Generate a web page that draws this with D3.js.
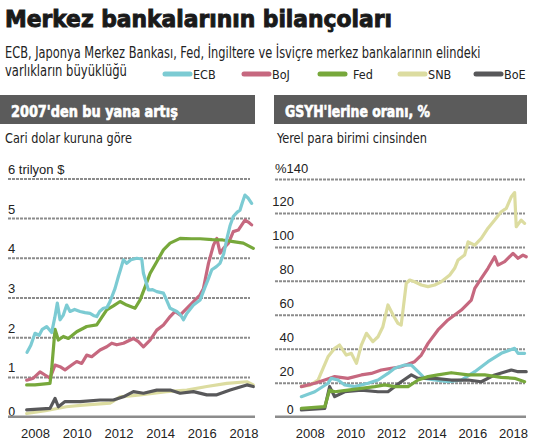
<!DOCTYPE html>
<html>
<head>
<meta charset="utf-8">
<script src="https://cdn.jsdelivr.net/npm/d3@7"></script>
<style>
  body { margin: 0; background: #fff; }
  svg { display: block; font-family: "DejaVu Sans Condensed", "DejaVu Sans", sans-serif; font-stretch: condensed; }
</style>
</head>
<body>
<div id="chart"></div>
<script>
// --- data ---
var seriesNames = ['ECB', 'BoJ', 'Fed', 'SNB', 'BoE'];
var seriesColors = ['#7ccbd3', '#c6687f', '#77a83b', '#dcdca0', '#58585a'];
var yearTicks = [2008, 2010, 2012, 2014, 2016, 2018];
var usdTicks = [1, 2, 3, 4, 5, 6];
var gdpTicks = [20, 40, 60, 80, 100, 120, 140];

// left panel: trillion $ at current exchange rates
var ecbUsd = [[2007.62,1.62],[2007.8,1.8],[2008.0,2.1],[2008.2,2.05],[2008.35,2.2],[2008.56,2.27],[2008.8,2.12],[2008.95,2.5],[2009.07,2.86],[2009.2,2.44],[2009.35,2.55],[2009.52,2.81],[2009.68,2.65],[2009.9,2.7],[2010.16,2.65],[2010.4,2.62],[2010.64,2.6],[2010.8,2.55],[2010.96,2.52],[2011.1,2.65],[2011.28,2.73],[2011.45,2.75],[2011.6,2.9],[2011.84,3.23],[2012.0,3.53],[2012.1,3.7],[2012.24,3.95],[2012.4,3.86],[2012.6,3.95],[2012.88,3.99],[2013.12,3.97],[2013.2,3.61],[2013.44,3.19],[2013.64,3.2],[2013.84,3.15],[2014.16,3.11],[2014.3,2.95],[2014.48,2.73],[2014.8,2.65],[2015.0,2.55],[2015.12,2.44],[2015.28,2.6],[2015.6,2.81],[2015.92,2.94],[2016.16,3.27],[2016.3,3.45],[2016.48,3.7],[2016.7,3.78],[2016.87,3.86],[2017.05,4.1],[2017.19,4.45],[2017.35,4.8],[2017.51,5.04],[2017.7,5.15],[2017.83,5.2],[2017.95,5.4],[2018.07,5.58],[2018.23,5.5],[2018.39,5.37]];
var bojUsd = [[2007.6,0.92],[2007.92,0.97],[2008.24,1.13],[2008.48,1.05],[2008.72,0.97],[2008.96,1.3],[2009.2,1.26],[2009.44,1.18],[2009.76,1.3],[2010.0,1.39],[2010.24,1.34],[2010.48,1.55],[2010.72,1.51],[2011.12,1.68],[2011.44,1.76],[2011.68,1.85],[2011.92,1.81],[2012.24,1.85],[2012.72,1.97],[2012.96,1.89],[2013.2,1.76],[2013.52,1.93],[2013.84,2.18],[2014.16,2.31],[2014.48,2.52],[2014.72,2.65],[2014.96,2.56],[2015.28,2.73],[2015.6,2.9],[2015.92,3.07],[2016.08,3.23],[2016.32,3.86],[2016.56,4.32],[2016.72,4.49],[2016.88,4.12],[2017.04,4.24],[2017.28,4.37],[2017.51,4.66],[2017.75,4.7],[2018.07,4.95],[2018.23,4.9],[2018.39,4.83]];
var fedUsd = [[2007.6,0.8],[2008.0,0.8],[2008.72,0.84],[2008.8,1.2],[2008.96,2.2],[2009.12,1.93],[2009.36,2.02],[2009.6,1.97],[2010.0,2.14],[2010.48,2.27],[2010.96,2.31],[2011.2,2.5],[2011.44,2.69],[2011.76,2.79],[2012.08,2.9],[2012.4,2.81],[2012.8,2.73],[2013.04,2.94],[2013.28,3.27],[2013.52,3.61],[2013.84,3.9],[2014.16,4.2],[2014.48,4.37],[2014.96,4.49],[2015.5,4.48],[2015.92,4.48],[2016.5,4.46],[2017.0,4.45],[2017.51,4.41],[2017.99,4.37],[2018.47,4.24]];
var snbUsd = [[2007.6,0.08],[2008.5,0.15],[2009.5,0.25],[2010.3,0.29],[2011.6,0.34],[2012.08,0.5],[2013.04,0.55],[2014.3,0.63],[2015.28,0.67],[2016.24,0.76],[2017.2,0.84],[2018.16,0.88],[2018.47,0.8]];
var boeUsd = [[2007.6,0.17],[2008.72,0.21],[2008.96,0.46],[2009.12,0.25],[2009.44,0.38],[2010.16,0.38],[2011.12,0.42],[2011.76,0.42],[2012.24,0.5],[2012.72,0.63],[2013.2,0.59],[2013.84,0.67],[2014.48,0.67],[2014.96,0.59],[2015.6,0.63],[2016.24,0.55],[2016.72,0.55],[2017.36,0.67],[2018.16,0.8],[2018.47,0.76]];

// right panel: % of GDP, local currency
var ecbGdp = [[2007.59,11.8],[2008.25,14.7],[2008.9,19.7],[2009.06,22.6],[2009.39,21.6],[2009.72,18.7],[2010.21,17.7],[2010.87,19.7],[2011.36,21.6],[2011.85,25.5],[2012.18,28.5],[2012.67,30.4],[2013.0,30.4],[2013.33,26.5],[2013.66,22.6],[2014.15,21.6],[2014.8,20.6],[2015.46,21.6],[2016.12,26.5],[2016.77,32.4],[2017.42,37.3],[2018.08,40.3],[2018.25,37.3],[2018.57,37.3]];
var bojGdp = [[2007.59,17.7],[2008.25,19.7],[2008.74,21.6],[2009.23,23.6],[2009.88,22.6],[2010.54,24.6],[2011.03,25.5],[2011.52,27.5],[2012.01,28.5],[2012.5,29.4],[2013.16,32.4],[2013.49,36.3],[2013.82,43.2],[2014.31,51.1],[2014.8,57],[2015.13,59.9],[2015.46,62.8],[2015.95,68.7],[2016.12,75.6],[2016.44,81.5],[2016.77,87.4],[2017.1,94.2],[2017.26,89.3],[2017.59,91.3],[2018.0,96.2],[2018.25,93.3],[2018.49,95.2],[2018.65,94.2]];
var fedGdp = [[2007.59,4.9],[2008.74,5.9],[2008.98,15.7],[2009.23,14.7],[2009.88,15.7],[2010.54,16.7],[2011.2,17.7],[2011.69,18.7],[2012.18,17.7],[2012.84,17.7],[2013.33,21.6],[2013.82,23.6],[2014.31,24.6],[2014.96,25.9],[2015.79,24.6],[2016.61,24.6],[2017.42,23.2],[2018.08,22.6],[2018.57,20.6]];
var snbGdp = [[2007.59,18],[2008.0,18.5],[2008.41,21.6],[2008.9,35.3],[2009.23,40.3],[2009.47,42.2],[2009.8,36.3],[2010.05,37.3],[2010.3,31.4],[2010.54,42.2],[2010.79,49.1],[2011.11,44.2],[2011.36,47.1],[2011.6,53],[2011.85,65.8],[2012.1,59.9],[2012.34,55],[2012.5,54],[2012.59,62.8],[2012.75,78.6],[2012.92,80.5],[2013.16,79.5],[2013.49,77.6],[2013.82,76.6],[2014.15,77.6],[2014.47,79.5],[2014.89,83.5],[2015.13,87.4],[2015.3,92.3],[2015.62,95.2],[2015.79,103],[2016.12,101],[2016.44,105],[2016.77,111],[2017.1,115.8],[2017.42,120.7],[2017.67,122.7],[2017.92,129.6],[2018.08,132],[2018.16,111.9],[2018.4,115.8],[2018.57,113.9]];
var boeGdp = [[2007.59,4],[2008.74,4.9],[2008.98,17.7],[2009.23,11.8],[2009.72,14.7],[2010.54,15.7],[2011.36,14.7],[2011.85,14.7],[2012.5,20.6],[2013.0,24.6],[2013.33,22.6],[2014.15,22.6],[2014.96,21.6],[2015.79,21.6],[2016.44,20.6],[2017.1,24.6],[2017.92,27.5],[2018.25,26.5],[2018.65,26.5]];

var W = 536, H = 445;
var svg = d3.select('#chart').append('svg').attr('width', W).attr('height', H);

// put a text at (x,y) and squeeze it sideways to the width it has in the picture
function fitText(parent, x, y, w, txt) {
  var t = parent.append('text').text(txt);
  t.attr('transform', 'translate(' + x + ',' + y + ')');
  return { node: t, done: function() {
    var nat = t.node().getComputedTextLength();
    t.attr('transform', 'translate(' + x + ',' + y + ') scale(' + (w / nat) + ',1)');
    return t;
  } };
}

// title + subtitle
var ttl = fitText(svg, 5, 27, 387, 'Merkez bankalarının bilançoları');
ttl.node.attr('font-size', 23).attr('font-weight', 'bold')
  .attr('fill', '#1a1a1a').attr('stroke', '#1a1a1a').attr('stroke-width', 0.9);
ttl.done();
var sub1 = fitText(svg, 5, 58, 476, 'ECB, Japonya Merkez Bankası, Fed, İngiltere ve İsviçre merkez bankalarının elindeki');
sub1.node.attr('font-size', 15).attr('fill', '#222');
sub1.done();
var sub2 = fitText(svg, 5, 76, 122, 'varlıkların büyüklüğü');
sub2.node.attr('font-size', 15).attr('fill', '#222');
sub2.done();

// legend
var legendX = [163, 242, 318, 398, 474];
var legend = svg.selectAll('g.leg').data(seriesNames).enter().append('g').attr('class', 'leg')
  .attr('transform', function(d, i) { return 'translate(' + legendX[i] + ',74)'; });
legend.append('line').attr('x1', 2).attr('x2', 27)
  .attr('stroke', function(d, i) { return seriesColors[i]; })
  .attr('stroke-width', 5).attr('stroke-linecap', 'round');
legend.append('text')
  .attr('x', function(d, i) { return i == 2 ? 35 : 30; }).attr('y', 5)
  .attr('font-size', 12.5).attr('fill', '#222').text(function(d) { return d; });

function panel(opt) {
  var g = svg.append('g');
  // header bar
  g.append('rect').attr('x', opt.barX).attr('y', 95).attr('width', opt.barW).attr('height', 29).attr('fill', '#5b5b5b');
  var hd = fitText(g, opt.barX + opt.headPad, 117, opt.headW, opt.header);
  hd.node.attr('font-size', 15.5).attr('font-weight', 'bold').attr('fill', '#fff').attr('stroke', '#fff').attr('stroke-width', 0.6);
  hd.done();
  var sb = fitText(g, opt.barX + opt.subPad, 143, opt.subW, opt.sub);
  sb.node.attr('font-size', 14.5).attr('fill', '#222');
  sb.done();

  var x = d3.scaleLinear().domain([2008, 2018]).range(opt.xRange);
  var y = d3.scaleLinear().domain([0, opt.yMax]).range([416.7, opt.yTop]);

  // horizontal grid + labels
  var yAxis = d3.axisRight(y).tickValues(opt.ticks).tickSize(opt.gridX[1] - opt.gridX[0]).tickFormat(opt.fmt);
  var ga = g.append('g').attr('transform', 'translate(' + opt.gridX[0] + ',0)').call(yAxis);
  ga.select('.domain').remove();
  ga.selectAll('.tick line').attr('stroke', '#8c8c8c').attr('stroke-width', 2).attr('stroke-dasharray', '3,1');
  ga.selectAll('.tick text').attr('font-size', 13).attr('fill', '#222')
    .attr('font-family', null)
    .attr('dy', opt.labelDy).attr('x', opt.labelX).attr('text-anchor', opt.anchor);

  // zero label
  g.append('text').attr('x', opt.zeroX).attr('y', y(0) + opt.labelDy + 4).attr('font-size', 13).attr('fill', '#222')
    .attr('text-anchor', opt.zeroAnchor).text('0');

  // lines
  var line = d3.line().x(function(d) { return x(d[0]); }).y(function(d) { return y(d[1]); });
  opt.order.forEach(function(i) {
    g.append('path').datum(opt.data[i]).attr('d', line).attr('fill', 'none')
      .attr('stroke', seriesColors[i]).attr('stroke-width', 3.2).attr('stroke-linejoin', 'round').attr('stroke-linecap', 'round');
  });

  // baseline
  g.append('line').attr('x1', opt.gridX[0]).attr('x2', opt.baseEnd).attr('y1', y(0)).attr('y2', y(0))
    .attr('stroke', '#8c8c8c').attr('stroke-width', 2.5);

  // x axis
  var xAxis = d3.axisBottom(x).tickValues(yearTicks).tickFormat(d3.format('d')).tickSize(0).tickPadding(12);
  var gx = g.append('g').attr('transform', 'translate(0,' + y(0) + ')').call(xAxis);
  gx.select('.domain').remove();
  gx.selectAll('text').attr('font-size', 13).attr('fill', '#222').attr('font-family', null);
}

panel({
  barX: 0, barW: 255, header: "2007'den bu yana artış", headPad: 11, headW: 167,
  sub: 'Cari dolar kuruna göre', subPad: 5, subW: 127,
  xRange: [35, 243.5], yMax: 6, yTop: 178.4, ticks: usdTicks,
  fmt: function(d) { return d == 6 ? '6 trilyon $' : d; },
  gridX: [8, 250], baseEnd: 255, labelDy: -5, labelX: 0, anchor: 'start',
  zeroX: 8, zeroAnchor: 'start',
  data: [ecbUsd, bojUsd, fedUsd, snbUsd, boeUsd], order: [3, 4, 1, 2, 0]
});
panel({
  barX: 274, barW: 253, header: "GSYH'lerine oranı, %", headPad: 11, headW: 145,
  sub: 'Yerel para birimi cinsinden', subPad: 3, subW: 150,
  xRange: [309.7, 513], yMax: 140, yTop: 179, ticks: gdpTicks,
  fmt: function(d) { return d == 140 ? '%140' : d; },
  gridX: [275, 525], baseEnd: 526, labelDy: -7, labelX: 19, anchor: 'end',
  zeroX: 294, zeroAnchor: 'end',
  data: [ecbGdp, bojGdp, fedGdp, snbGdp, boeGdp], order: [3, 1, 0, 4, 2]
});
// "%140" sits left-aligned
svg.selectAll('.tick text').filter(function(d) { return d == 140; }).attr('x', 0).attr('text-anchor', 'start');
</script>
</body>
</html>
